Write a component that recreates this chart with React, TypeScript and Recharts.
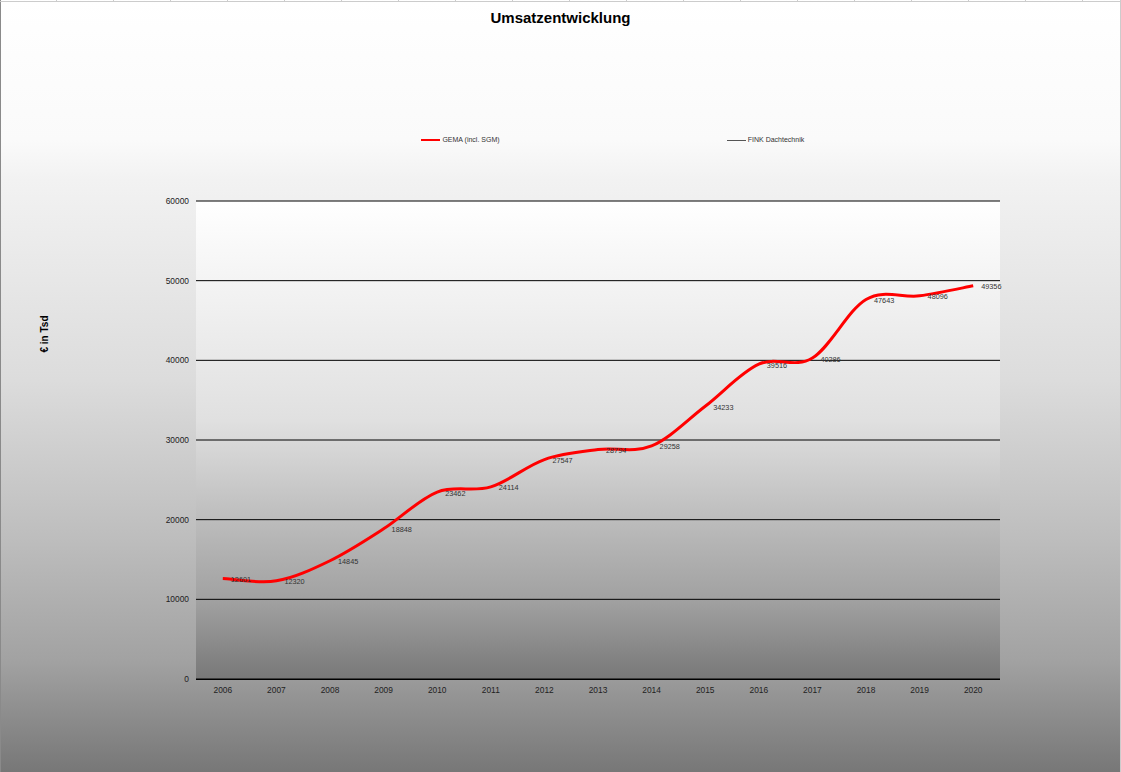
import { CartesianGrid, LabelList, Line, LineChart, XAxis, YAxis } from "recharts";

const years = ["2006", "2007", "2008", "2009", "2010", "2011", "2012", "2013", "2014", "2015", "2016", "2017", "2018", "2019", "2020"];
const gema = [12601, 12320, 14845, 18848, 23462, 24114, 27547, 28794, 29258, 34233, 39516, 40286, 47643, 48096, 49356];
const fink = [null, null, null, null, null, null, null, null, null, null, null, null, null, null, null];
const yTicks = [0, 10000, 20000, 30000, 40000, 50000, 60000];

const series = [
  { key: "gema", name: "GEMA (incl. SGM)", color: "#ff0000", width: 3 },
  { key: "fink", name: "FINK Dachtechnik", color: "#555555", width: 1 },
];

const data = years.map((year, i) => ({ year, gema: gema[i], fink: fink[i] }));

const font = "'Liberation Sans', Arial, sans-serif";

// excel-like smoothed line (catmull-rom through the points)
function smooth(context: any) {
  let pts: number[][] = [];
  return {
    areaStart() {},
    areaEnd() {},
    lineStart() {
      pts = [];
    },
    point(x: number, y: number) {
      pts.push([+x, +y]);
    },
    lineEnd() {
      if (!pts.length) return;
      context.moveTo(pts[0][0], pts[0][1]);
      for (let i = 0; i < pts.length - 1; i++) {
        const p0 = pts[i - 1] || pts[i];
        const p1 = pts[i];
        const p2 = pts[i + 1];
        const p3 = pts[i + 2] || p2;
        context.bezierCurveTo(
          p1[0] + (p2[0] - p0[0]) / 6,
          p1[1] + (p2[1] - p0[1]) / 6,
          p2[0] - (p3[0] - p1[0]) / 6,
          p2[1] - (p3[1] - p1[1]) / 6,
          p2[0],
          p2[1]
        );
      }
    },
  };
}

function PointLabel(props: any) {
  const { x, y, value } = props;
  if (value == null) return null;
  return (
    <text x={x + 8} y={y + 1} dominantBaseline="central" fontSize={7.3} fill="#333" fontFamily={font}>
      {value}
    </text>
  );
}

export default function App() {
  return (
    <div
      style={{
        position: "absolute",
        left: 0,
        top: 0,
        width: 1121,
        height: 772,
        overflow: "hidden",
        fontFamily: font,
        background:
          "linear-gradient(to bottom, #ffffff 0px, #fafafa 140px, #f2f2f2 180px, #dcdcdc 380px, #bdbdbd 540px, #a2a2a2 660px, #777777 772px)",
      }}
    >
      <div style={{ position: "absolute", left: 0, top: 0, width: 1, height: 772, background: "#8a8a8a" }} />
      <div style={{ position: "absolute", right: 0, top: 0, width: 1, height: 772, background: "#cccccc" }} />
      <div style={{ position: "absolute", left: 0, top: 1, width: 1121, height: 1, background: "#cccccc" }} />
      <div
        style={{
          position: "absolute",
          left: 0,
          top: 0,
          width: 1121,
          height: 1,
          background: "repeating-linear-gradient(to right, transparent 0px, transparent 56px, #cccccc 56px, #cccccc 57px)",
        }}
      />
      <div
        style={{
          position: "absolute",
          left: 0,
          top: 9,
          width: 1121,
          textAlign: "center",
          fontSize: 15,
          fontWeight: "bold",
          color: "#000",
        }}
      >
        Umsatzentwicklung
      </div>
      <div style={{ position: "absolute", left: 308, top: 135, width: 610, display: "flex" }}>
        {series.map((s) => (
          <div key={s.key} style={{ flex: 1, display: "flex", justifyContent: "center", alignItems: "center" }}>
            <div style={{ width: 19, height: s.width === 3 ? 2 : 1, background: s.color, marginRight: 2 }} />
            <span style={{ fontSize: 7, color: "#333", lineHeight: "10px" }}>{s.name}</span>
          </div>
        ))}
      </div>
      <div
        style={{
          position: "absolute",
          left: 44,
          top: 334,
          transform: "translate(-50%, -50%) rotate(-90deg)",
          fontSize: 10,
          fontWeight: "bold",
          whiteSpace: "nowrap",
          color: "#000",
        }}
      >
        € in Tsd
      </div>
      <LineChart
        width={1121}
        height={772}
        data={data}
        margin={{ top: 201, right: 121, bottom: 63, left: 136 }}
        style={{ position: "absolute", left: 0, top: 0 }}
      >
        <defs>
          <linearGradient id="plotBg" x1="0" y1="0" x2="0" y2="1">
            <stop offset="0" stopColor="#ffffff" />
            <stop offset="0.46" stopColor="#e0e0e0" />
            <stop offset="0.71" stopColor="#b5b5b5" />
            <stop offset="0.84" stopColor="#a0a0a0" />
            <stop offset="1" stopColor="#787878" />
          </linearGradient>
        </defs>
        <CartesianGrid
          vertical={false}
          horizontal={{ shapeRendering: "crispEdges" } as any}
          stroke="#000"
          strokeWidth={1}
          fill="url(#plotBg)"
          fillOpacity={1}
        />
        <XAxis
          dataKey="year"
          height={30}
          axisLine={{ stroke: "#000", shapeRendering: "crispEdges" } as any}
          tickLine={false}
          tick={{ fontSize: 8.4, fill: "#222", fontFamily: font }}
          tickMargin={2}
          interval={0}
          padding={{ left: 26.8, right: 26.8 }}
        />
        <YAxis
          width={60}
          domain={[0, 60000]}
          ticks={yTicks}
          axisLine={false}
          tickLine={false}
          tick={{ fontSize: 8.4, fill: "#222", fontFamily: font }}
          tickMargin={1}
        />
        {series.map((s) => (
          <Line
            key={s.key}
            dataKey={s.key}
            name={s.name}
            type={smooth as any}
            stroke={s.color}
            strokeWidth={s.width}
            dot={false}
            activeDot={false}
            isAnimationActive={false}
          >
            <LabelList dataKey={s.key} content={PointLabel} />
          </Line>
        ))}
      </LineChart>
    </div>
  );
}
